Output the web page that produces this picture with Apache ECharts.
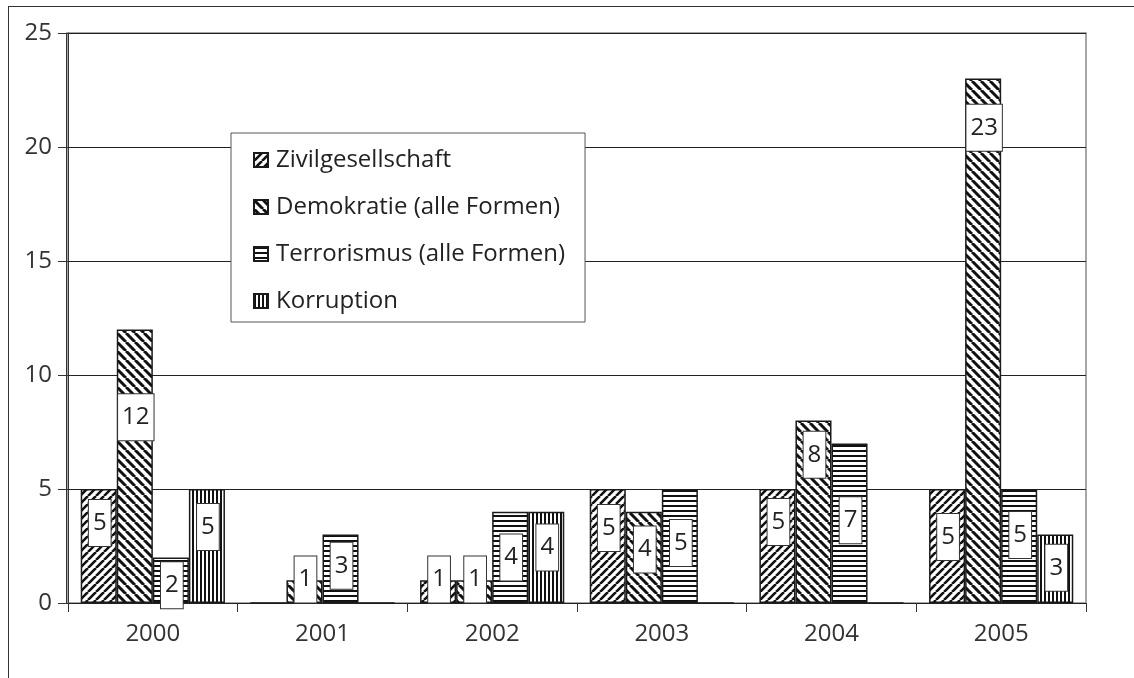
<!DOCTYPE html>
<html>
<head>
<meta charset="utf-8">
<script src="https://cdn.jsdelivr.net/npm/echarts@6/dist/echarts.min.js"></script>
<style>
  html, body { margin: 0; padding: 0; background: #fff; }
  #wrap { position: relative; width: 1134px; height: 678px; overflow: hidden; }
  #frame { position: absolute; left: 8px; top: 6px; width: 1200px; height: 800px;
           border: 1.5px solid #333; box-sizing: border-box; }
  #chart { position: absolute; left: 0; top: 0; width: 1134px; height: 678px; }
</style>
</head>
<body>
<div id="wrap">
  <div id="frame"></div>
  <div id="chart"></div>
</div>
<script>
// Jahre und Anzahl der Nennungen je Thema
const years = ['2000', '2001', '2002', '2003', '2004', '2005'];
const zivilgesellschaft = [5, 0, 1, 5, 5, 5];
const demokratie        = [12, 1, 1, 4, 8, 23];
const terrorismus       = [2, 3, 4, 5, 7, 5];
const korruption        = [5, 0, 4, 0, 0, 3];
const seriesNames = ['Zivilgesellschaft', 'Demokratie (alle Formen)', 'Terrorismus (alle Formen)', 'Korruption'];
const yTicks = [0, 5, 10, 15, 20, 25];

// vertical nudges (px) of the value boxes inside the bars
const labelShift = [
  [-23, 0, -12, -18, -24, -9],
  [-49, -12, -12, -8, -57, -213],
  [5, -3, 0, -3, -3, -11],
  [-19, 0, -10, 0, 0, -1]
];

const FONT = '"Open Sans"';
const INK = '#111';

// hatch fills drawn into small repeating tiles
function hatch(kind, size, width) {
  const c = document.createElement('canvas');
  c.width = size; c.height = size;
  const g = c.getContext('2d');
  g.fillStyle = '#fff';
  g.fillRect(0, 0, size, size);
  g.fillStyle = INK;
  g.strokeStyle = INK;
  g.lineWidth = width;
  if (kind === 'h') {
    g.fillRect(0, 0, size, width);
  } else if (kind === 'v') {
    g.fillRect(0, 0, width, size);
  } else {
    g.beginPath();
    for (let k = -1; k <= 1; k++) {
      if (kind === 'fwd') { g.moveTo(k * size, size); g.lineTo(k * size + size, 0); }
      else { g.moveTo(k * size, 0); g.lineTo(k * size + size, size); }
    }
    g.stroke();
  }
  return { image: c, repeat: 'repeat' };
}

const fills = [
  hatch('fwd', 8, 2.6),
  hatch('back', 9, 3),
  hatch('h', 5, 2),
  hatch('v', 4, 2)
];
const values = [zivilgesellschaft, demokratie, terrorismus, korruption];

const series = values.map((vals, si) => ({
  name: seriesNames[si],
  type: 'bar',
  barGap: '0%',
  barCategoryGap: '15%',
  itemStyle: { color: fills[si], borderColor: '#1a1a1a', borderWidth: 1.5 },
  emphasis: { disabled: true },
  data: vals.map((v, i) => ({
    value: v,
    label: {
      show: v > 0,
      position: 'inside',
      offset: [1, labelShift[si][i]],
      formatter: '{c}',
      fontFamily: FONT,
      fontSize: 24,
      lineHeight: 24,
      color: '#222',
      backgroundColor: '#fff',
      borderColor: '#333',
      borderWidth: 1,
      padding: [11, 4, 11, 4]
    }
  }))
}));

const chart = echarts.init(document.getElementById('chart'), null, { renderer: 'canvas' });
chart.setOption({
  animation: false,
  backgroundColor: 'transparent',
  textStyle: { fontFamily: FONT },
  grid: {
    left: 68, right: 48, top: 33, bottom: 75,
    show: true, borderColor: '#8a8a8a', borderWidth: 1.5, backgroundColor: 'transparent'
  },
  legend: {
    orient: 'vertical',
    left: 231, top: 133,
    backgroundColor: '#fff',
    borderColor: '#555',
    borderWidth: 1,
    borderRadius: 0,
    padding: [15, 20, 9, 22],
    itemGap: 23,
    itemWidth: 14,
    itemHeight: 14,
    icon: 'rect',
    selectedMode: false,
    textStyle: { fontFamily: FONT, fontSize: 24, lineHeight: 24, color: '#222', padding: [0, 0, 0, 3] },
    data: seriesNames
  },
  xAxis: {
    type: 'category',
    data: years,
    axisLine: { lineStyle: { color: '#222', width: 1 } },
    axisTick: { show: true, length: 9, lineStyle: { color: '#333' } },
    axisLabel: { fontFamily: FONT, fontSize: 24, color: '#333', margin: 19 },
    splitLine: { show: false }
  },
  yAxis: [{
    type: 'value',
    min: yTicks[0], max: yTicks[yTicks.length - 1], interval: 5,
    axisLine: { show: true, lineStyle: { color: '#333', width: 1 } },
    axisTick: { show: true, length: 10, lineStyle: { color: '#333' } },
    axisLabel: { fontFamily: FONT, fontSize: 24, color: '#333', margin: 16 },
    splitLine: { lineStyle: { color: '#222', width: 1 } }
  }, {
    type: 'value',
    position: 'left',
    offset: 2,
    min: yTicks[0], max: yTicks[yTicks.length - 1], interval: 5,
    axisLine: { show: true, lineStyle: { color: '#333', width: 1 } },
    axisTick: { show: false },
    axisLabel: { show: false },
    splitLine: { show: false }
  }],
  series: series
});
</script>
</body>
</html>
